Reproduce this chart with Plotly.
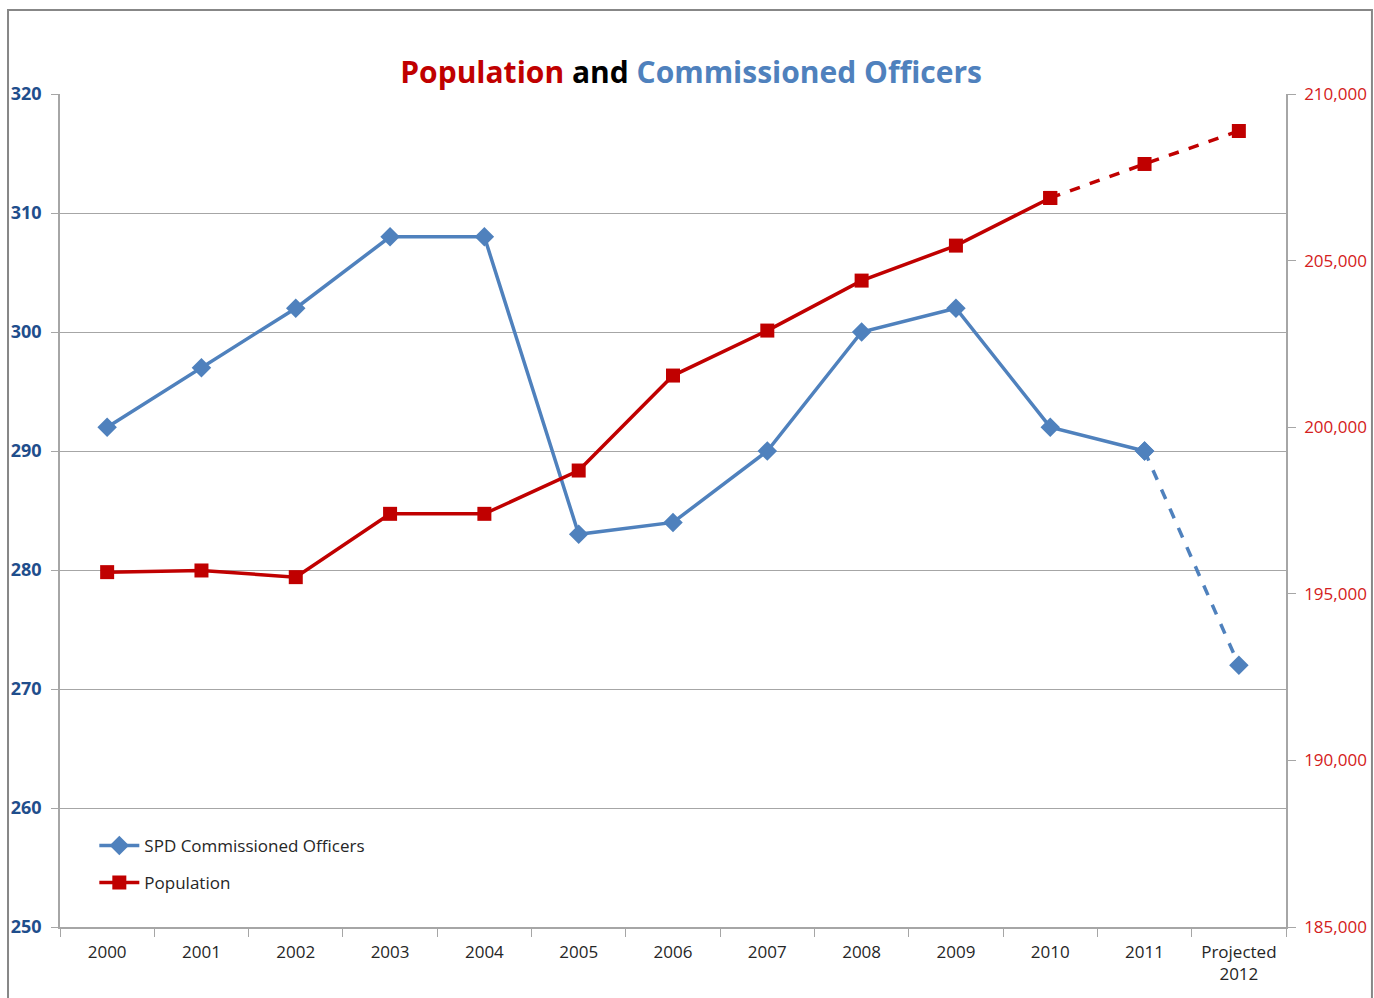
import plotly.graph_objects as go

# Category labels along the x axis
years = ["2000", "2001", "2002", "2003", "2004", "2005", "2006",
         "2007", "2008", "2009", "2010", "2011", "Projected<br>2012"]

# SPD commissioned officers (left axis)
officers = [292, 297, 302, 308, 308, 283, 284, 290, 300, 302, 292, 290, 272]

# City population (right axis)
population = [195650, 195700, 195500, 197400, 197400, 198700, 201550,
              202900, 204400, 205450, 206880, 207900, 208890]

# Index where each series turns into a projection (dashed)
officers_proj_start = 11
population_proj_start = 10

BLUE = "#4F81BD"
RED = "#C00000"
GRID = "#A6A6A6"
FONT = "Open Sans"

fig = go.Figure()

fig.add_trace(go.Scatter(
    x=years[:officers_proj_start + 1], y=officers[:officers_proj_start + 1],
    name="SPD Commissioned Officers", mode="lines+markers",
    line=dict(color=BLUE, width=3.5),
    marker=dict(symbol="diamond", size=15, color=BLUE),
    legendgroup="off", yaxis="y",
))
fig.add_trace(go.Scatter(
    x=years[officers_proj_start:], y=officers[officers_proj_start:],
    mode="lines+markers", showlegend=False,
    line=dict(color=BLUE, width=3.5, dash="dash"),
    marker=dict(symbol="diamond", size=15, color=BLUE),
    legendgroup="off", yaxis="y",
))
fig.add_trace(go.Scatter(
    x=years[:population_proj_start + 1], y=population[:population_proj_start + 1],
    name="Population", mode="lines+markers",
    line=dict(color=RED, width=3.5),
    marker=dict(symbol="square", size=14, color=RED),
    legendgroup="pop", yaxis="y2",
))
fig.add_trace(go.Scatter(
    x=years[population_proj_start:], y=population[population_proj_start:],
    mode="lines+markers", showlegend=False,
    line=dict(color=RED, width=3.5, dash="dash"),
    marker=dict(symbol="square", size=14, color=RED),
    legendgroup="pop", yaxis="y2",
))

fig.update_layout(
    width=1374, height=998,
    margin=dict(l=60, r=88, t=94, b=71, autoexpand=False),
    paper_bgcolor="white", plot_bgcolor="white",
    font=dict(family=FONT, size=17, color="#262626"),
    title=dict(
        text=("<b><span style='color:%s'>Population</span> and "
              "<span style='color:%s'>Commissioned Officers</span></b>") % (RED, BLUE),
        font=dict(family=FONT, size=30, color="black"),
        x=0.503, xanchor="center", y=0.927, yanchor="middle",
    ),
    showlegend=True,
    legend=dict(
        x=0.028, y=0.119, xanchor="left", yanchor="top",
        bgcolor="rgba(0,0,0,0)", font=dict(size=17, color="#262626"),
        tracegroupgap=12, itemwidth=40,
    ),
    xaxis=dict(
        type="category", tickmode="array", tickvals=years, ticktext=years,
        range=[-0.5, len(years) - 0.5], automargin=False,
        showline=True, linecolor=GRID, linewidth=1.5,
        ticks="outside", tickson="boundaries", ticklen=8, tickcolor=GRID,
        showgrid=False, zeroline=False,
        tickfont=dict(size=17, color="#262626"),
        ticklabelstandoff=9,
    ),
    yaxis=dict(
        range=[250, 320], dtick=10, tick0=250, automargin=False,
        showline=True, linecolor=GRID, linewidth=1.5,
        showgrid=True, gridcolor=GRID, gridwidth=1.2,
        ticks="outside", ticklen=7, tickcolor=GRID,
        zeroline=False,
        tickfont=dict(size=18, color="#1F4E8C", family=FONT, weight="bold"),
        ticklabelstandoff=6,
    ),
    yaxis2=dict(
        range=[185000, 210000], dtick=5000, tick0=185000, automargin=False,
        overlaying="y", side="right", tickformat=",",
        showline=True, linecolor=GRID, linewidth=1.5,
        showgrid=False, zeroline=False,
        ticks="outside", ticklen=8, tickcolor=GRID,
        tickfont=dict(size=17, color="#D42020"),
        ticklabelstandoff=5,
    ),
    shapes=[dict(
        type="rect", xref="paper", yref="paper",
        x0=-0.0424, x1=1.0701, y0=-0.09, y1=1.1008,
        line=dict(color="#878787", width=2), layer="below",
    )],
)

fig.write_html("out.html")
